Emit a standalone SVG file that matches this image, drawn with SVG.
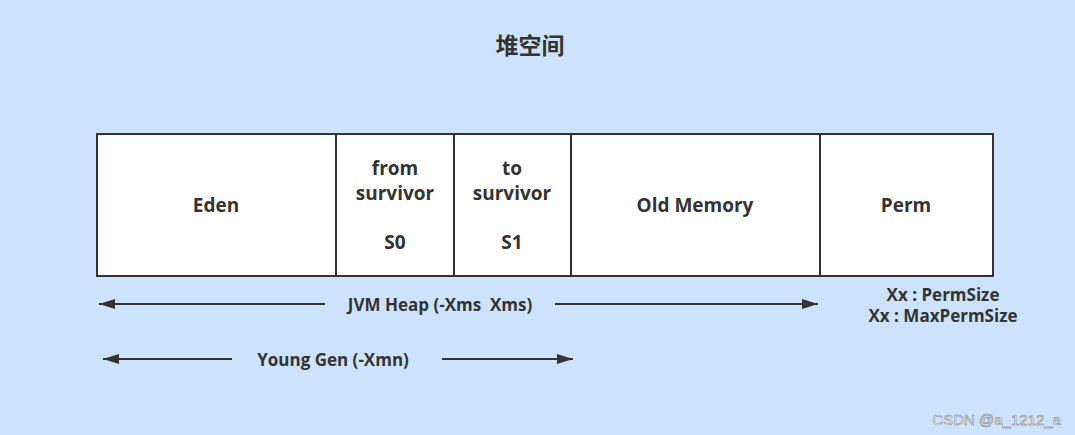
<svg xmlns="http://www.w3.org/2000/svg" width="1075" height="435" viewBox="0 0 1075 435">
<style>
.b{fill:#fff;stroke:#333;stroke-width:2}
.t{font-family:"Open Sans","Noto Sans",sans-serif;font-weight:bold;font-size:19px;fill:#333;text-anchor:middle;white-space:pre}
.l{stroke:#333;stroke-width:2;fill:none}
</style>
<defs><marker id="a" viewBox="0 0 10 10" refX="10" refY="5" markerWidth="16" markerHeight="10" markerUnits="userSpaceOnUse" orient="auto-start-reverse" preserveAspectRatio="none"><path d="M0,0L10,5L0,10z" fill="#333"/></marker></defs>
<rect width="1075" height="435" fill="#cce3fb"/>
<text x="530" y="54" class="t" style="font-size:23px;font-family:'Noto Sans CJK SC',sans-serif">堆空间</text>
<g id="eden"><rect class="b" x="97" y="134" width="239" height="142"/><text class="t" x="216" y="212">Eden</text></g>
<g id="s0"><rect class="b" x="336" y="134" width="118" height="142"/><text class="t" x="395" y="175">from</text><text class="t" x="395" y="200">survivor</text><text class="t" x="395" y="249">S0</text></g>
<g id="s1"><rect class="b" x="454" y="134" width="117" height="142"/><text class="t" x="512" y="175">to</text><text class="t" x="512" y="200">survivor</text><text class="t" x="512" y="249">S1</text></g>
<g id="old"><rect class="b" x="571" y="134" width="249" height="142"/><text class="t" x="695" y="212">Old Memory</text></g>
<g id="perm"><rect class="b" x="820" y="134" width="173" height="142"/><text class="t" x="906" y="212">Perm</text></g>
<g id="connectors">
<path class="l" d="M325,304H99" marker-end="url(#a)"/>
<path class="l" d="M555,304H818" marker-end="url(#a)"/>
<path class="l" d="M232,359H103" marker-end="url(#a)"/>
<path class="l" d="M442,359H573" marker-end="url(#a)"/>
</g>
<text class="t" x="440" y="311" style="font-size:17px" xml:space="preserve">JVM Heap (-Xms  Xms)</text>
<text class="t" x="333" y="366" style="font-size:17px">Young Gen (-Xmn)</text>
<text class="t" x="943" y="301" style="font-size:17px">Xx : PermSize</text>
<text class="t" x="943" y="322" style="font-size:17px">Xx : MaxPermSize</text>
<text x="1061" y="425" style="font-family:'Liberation Sans',sans-serif;font-size:15px;fill:#fff;text-anchor:end;stroke:#777;stroke-width:0.5">CSDN @a_1212_a</text>
</svg>
